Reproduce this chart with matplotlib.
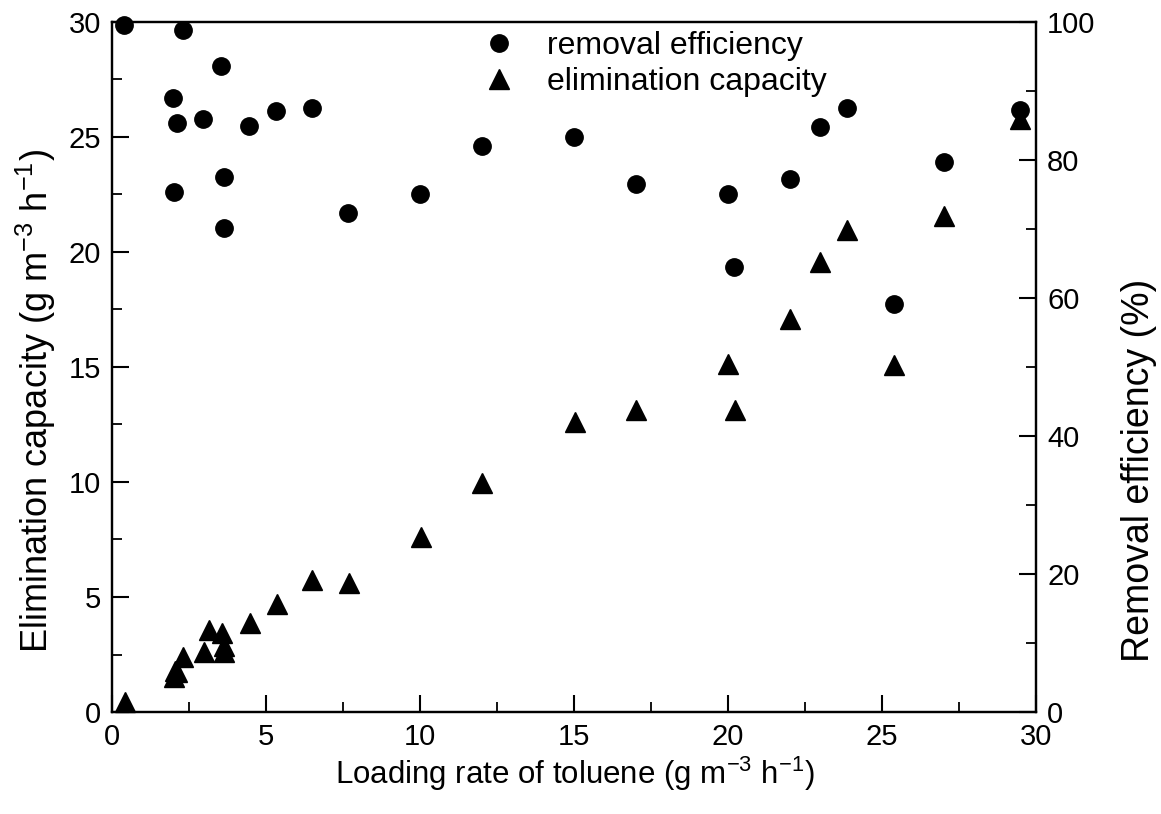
import matplotlib
matplotlib.use('Agg')
import matplotlib.pyplot as plt
from matplotlib.ticker import MultipleLocator

plt.rcParams['font.family'] = ['Liberation Sans', 'DejaVu Sans']
plt.rcParams['mathtext.default'] = 'regular'

# removal efficiency (%), right axis
re_load = [0.4, 2.3, 3.55, 1.97, 2.1, 2.95, 4.46, 5.32, 6.49, 2.02, 3.65, 3.63, 7.67,
           10.0, 12.0, 15.0, 17.0, 20.0, 20.2, 22.0, 23.0, 23.88, 25.39, 27.0, 29.48]
re_value = [99.6, 98.9, 93.6, 89.0, 85.4, 86.0, 84.9, 87.1, 87.6, 75.3, 77.6, 70.1, 72.3,
            75.0, 82.0, 83.4, 76.5, 75.1, 64.5, 77.3, 84.8, 87.6, 59.2, 79.7, 87.3]

# elimination capacity (g m-3 h-1), left axis
ec_load = [0.42, 2.0, 2.05, 2.1, 2.32, 2.97, 3.16, 3.56, 3.65, 3.63, 4.48, 5.35, 6.5, 7.68,
           10.02, 12.02, 15.03, 17.01, 20.01, 20.23, 22.01, 23.0, 23.88, 25.39, 27.0, 29.48]
ec_value = [0.45, 1.53, 1.80, 1.72, 2.38, 2.62, 3.55, 3.45, 2.85, 2.62, 3.86, 4.70, 5.74, 5.62,
            7.62, 9.94, 12.62, 13.13, 15.12, 13.13, 17.07, 19.58, 20.96, 15.09, 21.57, 25.8]

fig = plt.figure(figsize=(11.61, 8.14), dpi=100)
ax = fig.add_axes([0.0965, 0.1253, 0.7958, 0.8477])
ax2 = ax.twinx()

tri, = ax.plot(ec_load, ec_value, linestyle='none', marker='^', markersize=14,
               color='black', clip_on=False, label='elimination capacity')
dot, = ax2.plot(re_load, re_value, linestyle='none', marker='o', markersize=12.5,
                color='black', clip_on=False, label='removal efficiency')

ax.set_xlim(0, 30)
ax.set_ylim(0, 30)
ax2.set_ylim(0, 100)

ax.xaxis.set_major_locator(MultipleLocator(5))
ax.xaxis.set_minor_locator(MultipleLocator(2.5))
ax.yaxis.set_major_locator(MultipleLocator(5))
ax.yaxis.set_minor_locator(MultipleLocator(2.5))
ax2.yaxis.set_major_locator(MultipleLocator(20))
ax2.yaxis.set_minor_locator(MultipleLocator(10))

for a in (ax, ax2):
    for s in a.spines.values():
        s.set_linewidth(1.6)
    a.tick_params(which='major', direction='in', length=12, width=1.5, labelsize=21, pad=8)
    a.tick_params(which='minor', direction='in', length=7, width=1.3)
ax.tick_params(which='both', top=False, right=False)
ax2.tick_params(which='both', left=False, right=True)

ax.set_xlabel('Loading rate of toluene (g m$^{-3}$ h$^{-1}$)', fontsize=22.5)
ax.set_ylabel('Elimination capacity (g m$^{-3}$ h$^{-1}$)', fontsize=26)
ax2.set_ylabel('Removal efficiency (%)', fontsize=27)
ax.xaxis.set_label_coords(0.501, -0.062)
ax.yaxis.set_label_coords(-0.059, 0.45)
ax2.yaxis.set_label_coords(1.092, 0.35)

fig.legend(handles=[dot, tri], loc='upper left', bbox_to_anchor=(0.405, 0.978),
           frameon=False, fontsize=23, handletextpad=1.0, labelspacing=0.2,
           handlelength=1.0, borderaxespad=0)

fig.savefig('out.png', dpi=100)
